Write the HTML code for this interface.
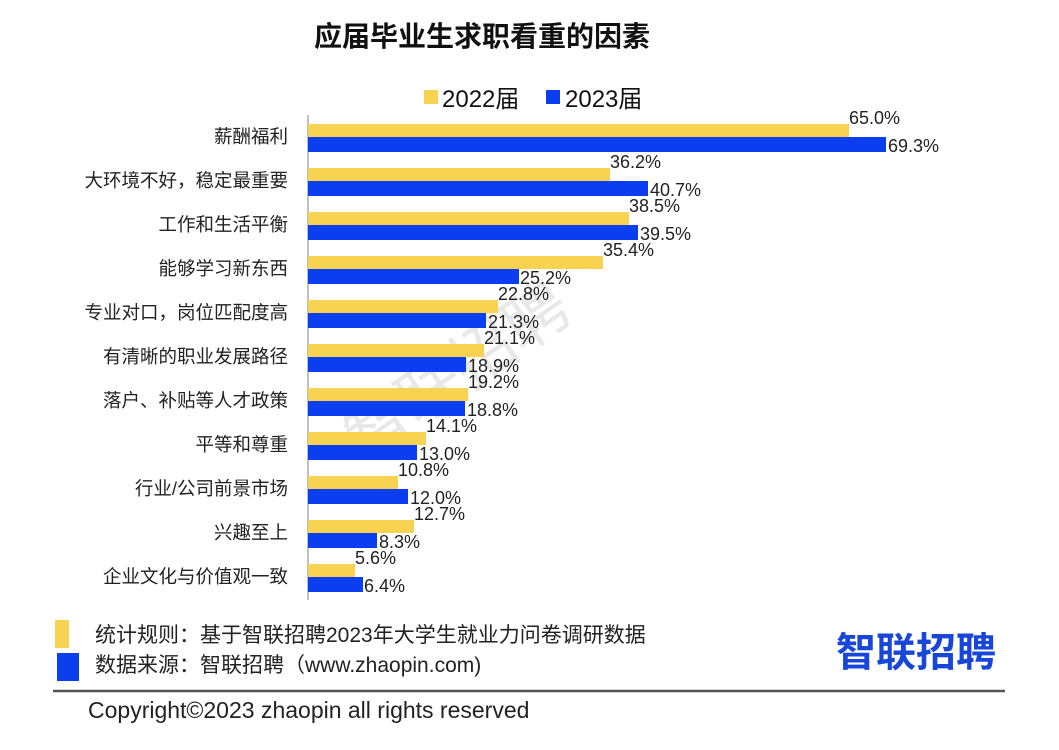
<!DOCTYPE html>
<html><head><meta charset="utf-8"><style>
html,body{margin:0;padding:0;background:#fff;}
svg text{font-family:"Liberation Sans","Noto Sans CJK SC",sans-serif;}
</style></head><body>
<svg width="1059" height="745" viewBox="0 0 1059 745" xmlns="http://www.w3.org/2000/svg">
<rect width="1059" height="745" fill="#fff"/>
<text x="482" y="46" text-anchor="middle" font-size="28" font-weight="bold" fill="#111">应届毕业生求职看重的因素</text>
<rect x="424" y="90" width="14" height="14" fill="#F7D351"/>
<text x="442" y="107" font-size="24" fill="#111">2022届</text>
<rect x="546" y="90" width="14" height="14" fill="#0B3EEF"/>
<text x="565" y="107" font-size="24" fill="#111">2023届</text>
<text x="470" y="390" font-size="64" fill="#e8e8e8" transform="rotate(-35 470 390)" text-anchor="middle">智联招聘</text>
<line x1="308" y1="115" x2="308" y2="600" stroke="#aaa" stroke-width="1.5"/>
<line x1="53" y1="691" x2="1005" y2="691" stroke="#555" stroke-width="2.5"/>
<rect x="55" y="620" width="14" height="28" fill="#F7D351"/>
<rect x="57" y="653" width="22" height="28" fill="#0B3EEF"/>
<text x="95" y="642" font-size="21" fill="#222">统计规则：基于智联招聘2023年大学生就业力问卷调研数据</text>
<text x="95" y="672" font-size="21" fill="#222">数据来源：智联招聘（www.zhaopin.com)</text>
<text x="88" y="718" font-size="23" fill="#222">Copyright©2023 zhaopin all rights reserved</text>
<text x="836" y="666" font-size="40" font-weight="bold" fill="#1846D8">智联招聘</text>
<g font-size="18.5" fill="#222">
<text x="288" y="143" text-anchor="end">薪酬福利</text>
<text x="288" y="187" text-anchor="end">大环境不好，稳定最重要</text>
<text x="288" y="231" text-anchor="end">工作和生活平衡</text>
<text x="288" y="275" text-anchor="end">能够学习新东西</text>
<text x="288" y="319" text-anchor="end">专业对口，岗位匹配度高</text>
<text x="288" y="363" text-anchor="end">有清晰的职业发展路径</text>
<text x="288" y="407" text-anchor="end">落户、补贴等人才政策</text>
<text x="288" y="451" text-anchor="end">平等和尊重</text>
<text x="288" y="495" text-anchor="end">行业/公司前景市场</text>
<text x="288" y="539" text-anchor="end">兴趣至上</text>
<text x="288" y="583" text-anchor="end">企业文化与价值观一致</text>
</g>
<g fill="#F7D351">
<rect x="308" y="124" width="541" height="13"/>
<rect x="308" y="168" width="302" height="13"/>
<rect x="308" y="212" width="321" height="13"/>
<rect x="308" y="256" width="295" height="13"/>
<rect x="308" y="300" width="190" height="13"/>
<rect x="308" y="344" width="176" height="13"/>
<rect x="308" y="388" width="160" height="13"/>
<rect x="308" y="432" width="118" height="13"/>
<rect x="308" y="476" width="90" height="13"/>
<rect x="308" y="520" width="106" height="13"/>
<rect x="308" y="564" width="47" height="13"/>
</g>
<g fill="#0B3EEF">
<rect x="308" y="137" width="578" height="15"/>
<rect x="308" y="181" width="340" height="15"/>
<rect x="308" y="225" width="330" height="15"/>
<rect x="308" y="269" width="211" height="15"/>
<rect x="308" y="313" width="178" height="15"/>
<rect x="308" y="357" width="158" height="15"/>
<rect x="308" y="401" width="157" height="15"/>
<rect x="308" y="445" width="109" height="15"/>
<rect x="308" y="489" width="100" height="15"/>
<rect x="308" y="533" width="69" height="15"/>
<rect x="308" y="577" width="55" height="15"/>
</g>
<g font-size="18" fill="#222">
<text x="849" y="124">65.0%</text><text x="888" y="152">69.3%</text>
<text x="610" y="168">36.2%</text><text x="650" y="196">40.7%</text>
<text x="629" y="212">38.5%</text><text x="640" y="240">39.5%</text>
<text x="603" y="256">35.4%</text><text x="520" y="284">25.2%</text>
<text x="498" y="300">22.8%</text><text x="488" y="328">21.3%</text>
<text x="484" y="344">21.1%</text><text x="468" y="372">18.9%</text>
<text x="468" y="388">19.2%</text><text x="467" y="416">18.8%</text>
<text x="426" y="432">14.1%</text><text x="419" y="460">13.0%</text>
<text x="398" y="476">10.8%</text><text x="410" y="504">12.0%</text>
<text x="414" y="520">12.7%</text><text x="379" y="548">8.3%</text>
<text x="355" y="564">5.6%</text><text x="364" y="592">6.4%</text>
</g>
</svg>
</body></html>
